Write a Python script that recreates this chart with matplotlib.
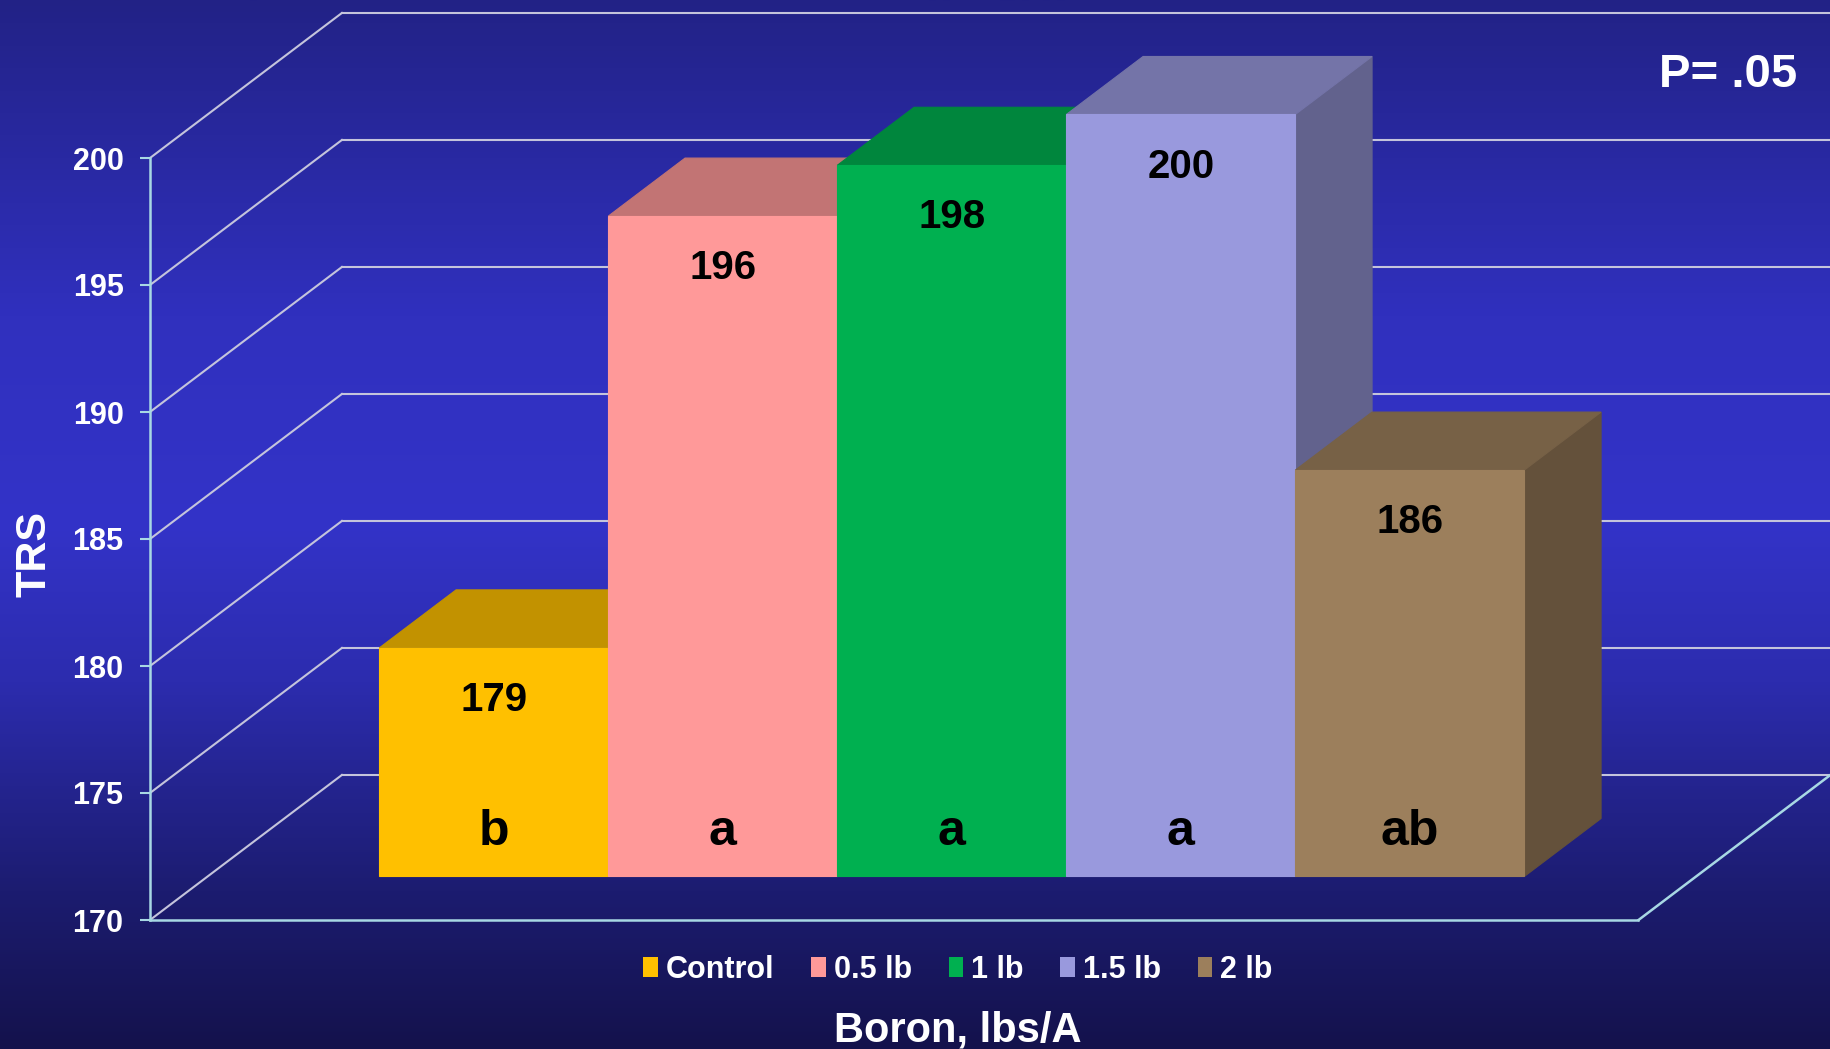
import numpy as np
import matplotlib.pyplot as plt
from matplotlib.patches import Polygon, Patch

plt.rcParams['font.family'] = ['Liberation Sans', 'DejaVu Sans']
plt.rcParams['font.weight'] = 'bold'

# Boron rate trial - TRS by treatment
tratamentos = ['Control', '0.5 lb', '1 lb', '1.5 lb', '2 lb']
trs = [179, 196, 198, 200, 186]
letras = ['b', 'a', 'a', 'a', 'ab']
cores = ['#FFC000', '#FF9999', '#00B050', '#9999DD', '#9C7F5C']
yticks = [170, 175, 180, 185, 190, 195, 200]

# geometria do "3D" (projeção oblíqua)
W = 6.5           # largura do piso
DX, DY = 0.838, 5.71   # deslocamento da profundidade
d0, d1 = 0.3, 0.7      # profundidade das barras
px_x, px_y = 229.0, 25.4
largura_fig, altura_fig = 1830, 1049

fig = plt.figure(figsize=(largura_fig / 100, altura_fig / 100), dpi=100)
ax = fig.add_axes([0, 0, 1, 1])
xlim = (-150 / px_x, (largura_fig - 150) / px_x)
ylim = (170 - (altura_fig - 920) / px_y, 170 + 920 / px_y)

# fundo em degradê
paradas = [0.0, 0.30, 0.50, 0.65, 0.85, 1.0]
rgb = np.array([[0x22, 0x22, 0x86], [0x30, 0x30, 0xBE], [0x33, 0x33, 0xC8],
                [0x2C, 0x2C, 0xAE], [0x1C, 0x1C, 0x70], [0x14, 0x12, 0x4C]]) / 255
t = np.linspace(0, 1, 512)
grad = np.stack([np.interp(t, paradas, rgb[:, k]) for k in range(3)], axis=1)
ax.imshow(grad[:, None, :], extent=[xlim[0], xlim[1], ylim[0], ylim[1]],
          aspect='auto', origin='upper', zorder=0)

cor_grade = '#C4C4DC'
cor_eixo = '#A8D8E4'
for v in yticks:
    ax.plot([DX, W + DX], [v + DY, v + DY], color=cor_grade, lw=1.5, zorder=1)
    ax.plot([0, DX], [v, v + DY], color=cor_grade, lw=1.5, zorder=1)
ax.plot([W, W + DX], [170, 170 + DY], color=cor_eixo, lw=1.8, zorder=1)


def escurecer(cor, f):
    r, g, b = [int(cor[i:i + 2], 16) / 255 for i in (1, 3, 5)]
    return (r * f, g * f, b * f)


# barras, da esquerda para a direita
for i, (v, c) in enumerate(zip(trs, cores)):
    x0 = 0.75 + i
    z = 2 + i * 3
    lado = [(x0 + 1 + d0 * DX, 170 + d0 * DY), (x0 + 1 + d1 * DX, 170 + d1 * DY),
            (x0 + 1 + d1 * DX, v + d1 * DY), (x0 + 1 + d0 * DX, v + d0 * DY)]
    topo = [(x0 + d0 * DX, v + d0 * DY), (x0 + 1 + d0 * DX, v + d0 * DY),
            (x0 + 1 + d1 * DX, v + d1 * DY), (x0 + d1 * DX, v + d1 * DY)]
    frente = [(x0 + d0 * DX, 170 + d0 * DY), (x0 + 1 + d0 * DX, 170 + d0 * DY),
              (x0 + 1 + d0 * DX, v + d0 * DY), (x0 + d0 * DX, v + d0 * DY)]
    for pts, f, dz in [(lado, 0.64, 0), (topo, 0.76, 1), (frente, 1.0, 2)]:
        cf = escurecer(c, f)
        ax.add_patch(Polygon(pts, closed=True, fc=cf, ec=cf, lw=0.8, zorder=z + dz))
    xc = x0 + 0.5 + d0 * DX
    ax.text(xc, v - 2.05 + d0 * DY, str(v), ha='center', va='center',
            fontsize=29, color='black', zorder=30)
    ax.text(xc, 171.25 + d0 * DY, letras[i], ha='center', va='baseline',
            fontsize=36, color='black', zorder=30)

# eixos
ax.set_xlim(xlim)
ax.set_ylim(ylim)
for s in ['top', 'right']:
    ax.spines[s].set_visible(False)
ax.spines['left'].set_position(('data', 0))
ax.spines['left'].set_bounds(170, 200)
ax.spines['bottom'].set_position(('data', 170))
ax.spines['bottom'].set_bounds(0, W)
for s in ['left', 'bottom']:
    ax.spines[s].set_color(cor_eixo)
    ax.spines[s].set_linewidth(1.8)
    ax.spines[s].set_zorder(1.5)
ax.set_xticks([])
ax.set_yticks(yticks)
ax.tick_params(axis='y', colors=cor_eixo, labelcolor='white', labelsize=22,
               length=7, width=1.5, pad=12)

ax.text(34 / px_x - 150 / px_x, ylim[1] - 554 / px_y, 'TRS', rotation=90,
        ha='center', va='center', fontsize=31, color='white')
fig.text(1797 / largura_fig, 1 - 75 / altura_fig, 'P= .05', ha='right', va='center',
         fontsize=34, color='white')
fig.text(958 / largura_fig, 1 - 1031 / altura_fig, 'Boron, lbs/A', ha='center',
         va='center', fontsize=30, color='white')

handles = [Patch(facecolor=c, edgecolor='none') for c in cores]
fig.legend(handles, tratamentos, loc='center', ncol=5,
           bbox_to_anchor=(958 / largura_fig, 1 - 970 / altura_fig), frameon=False,
           fontsize=22, labelcolor='white', handlelength=0.48, handleheight=0.65,
           handletextpad=0.26, columnspacing=1.2, borderpad=0)

plt.savefig('out.png', dpi=100)
